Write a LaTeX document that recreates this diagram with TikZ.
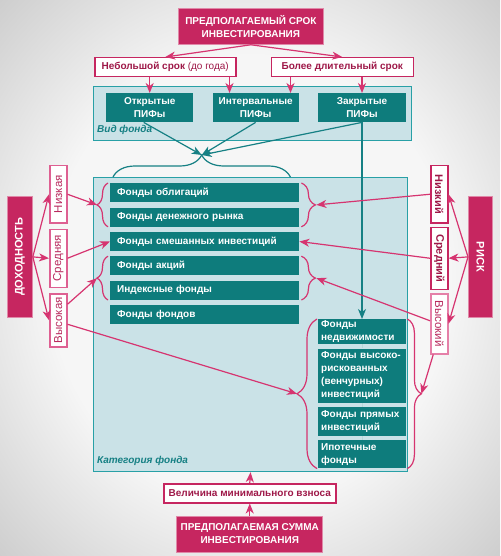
\documentclass[tikz,border=0pt]{standalone}
\usepackage{fontspec}
\setmainfont{Liberation Sans}
\usetikzlibrary{arrows.meta, positioning, decorations.pathreplacing}
\definecolor{crim}{RGB}{198,38,96}
\definecolor{crimdark}{RGB}{158,24,72}
\definecolor{crimsoft}{RGB}{184,42,94}
\definecolor{pinkline}{RGB}{214,52,112}
\definecolor{pinksoft}{RGB}{222,96,146}
\definecolor{tealbox}{RGB}{14,124,124}
\definecolor{tealline}{RGB}{22,128,132}
\definecolor{regionfill}{RGB}{202,226,231}
\definecolor{regionline}{RGB}{40,160,166}
\definecolor{bgin}{RGB}{246,246,246}
\definecolor{bgout}{RGB}{168,168,168}
\definecolor{bgcorner}{RGB}{160,160,160}
\pgfdeclareradialshading{bgshade}{\pgfpoint{0bp}{0bp}}{color(0bp)=(bgin); color(20bp)=(bgin); color(50bp)=(bgout); color(72bp)=(bgcorner)}
\newcommand{\vup}[1]{\rotatebox{90}{#1}}
\newcommand{\vdown}[1]{\rotatebox{-90}{#1}}

\begin{document}
\begin{tikzpicture}[
x=1pt, y=-1pt,
head/.style={rectangle, fill=crim, draw=crim!55!white, line width=0.8pt, text=white,
font=\bfseries\fontsize{10}{13}\selectfont, align=center, inner sep=0pt, anchor=north west},
tag/.style={rectangle, fill=white, draw=crim, line width=1.5pt, text=crimdark,
font=\bfseries, inner sep=0pt, anchor=north west},
vtag/.style={tag, minimum width=17pt, font=\bfseries\fontsize{11}{13}\selectfont},
ytag/.style={vtag, draw=pinksoft, text=crimsoft, font=\fontsize{11.5}{13}\selectfont},
region/.style={rectangle, fill=regionfill, draw=regionline, line width=1.2pt, anchor=north west},
regionlabel/.style={text=tealline, font=\bfseries\itshape, anchor=south west, inner sep=0pt},
fund/.style={rectangle, fill=tealbox, text=white, font=\bfseries\fontsize{10}{13}\selectfont,
align=center, inner sep=0pt, minimum height=29pt},
catbox/.style={rectangle, fill=tealbox, text=white, font=\bfseries, anchor=north west,
text width=175pt, inner xsep=7pt, inner ysep=0pt, minimum height=19pt, align=left},
sidebox/.style={rectangle, fill=tealbox, text=white, font=\bfseries\fontsize{10}{13}\selectfont,
anchor=north west, text width=82pt, inner xsep=3pt, inner ysep=0pt, align=left},
link/.style={draw=white!70!tealbox, line width=1.2pt},
parr/.style={-{Stealth[length=10pt,width=8pt,inset=3pt]}, draw=pinkline, line width=1.2pt},
tarr/.style={-{Stealth[length=10pt,width=8pt,inset=3pt]}, draw=tealline, line width=1.2pt},
pbrace/.style={decorate, decoration={brace, amplitude=#1}, draw=pinkline, line width=1.2pt},
tbrace/.style={decorate, decoration={brace, amplitude=22pt}, draw=tealline, line width=1.2pt}
]
\shade[shading=bgshade] (0,0) rectangle (500,556);

% term of investment
\node[head, minimum width=145pt, minimum height=36pt] (term) at (178,8) {ПРЕДПОЛАГАЕМЫЙ СРОК\\ИНВЕСТИРОВАНИЯ};
\node[tag, minimum width=141pt, minimum height=19pt] (short) at (94,57) {Небольшой срок {\mdseries (до года)}};
\node[tag, minimum width=142pt, minimum height=19pt, right=34pt of short] (long) {Более длительный срок};

% fund type
\node[region, minimum width=318pt, minimum height=54pt] (vid) at (93,86) {};
\node[regionlabel] (vidlabel) at ([xshift=4pt,yshift=6pt]vid.south west) {Вид фонда};
\node[fund, minimum width=87pt, anchor=north west] (open) at (106,93) {Открытые\\ПИФы};
\node[fund, minimum width=86pt, right=19pt of open] (interval) {Интервальные\\ПИФы};
\node[fund, minimum width=88pt, right=19pt of interval] (closed) {Закрытые\\ПИФы};

% fund category
\node[region, minimum width=314pt, minimum height=294pt] (cat) at (93,177) {};
\node[regionlabel] (catlabel) at ([xshift=4pt,yshift=6pt]cat.south west) {Категория фонда};
\node[catbox] (bonds) at (110,183) {Фонды облигаций};
\node[catbox, below=5pt of bonds] (money) {Фонды денежного рынка};
\node[catbox, below=5pt of money] (mixed) {Фонды смешанных инвестиций};
\node[catbox, below=5pt of mixed] (stocks) {Фонды акций};
\node[catbox, below=5pt of stocks] (index) {Индексные фонды};
\node[catbox, below=5pt of index] (fof) {Фонды фондов};
\node[sidebox, minimum height=25pt] (realty) at (318,319) {Фонды\\недвижимости};
\node[sidebox, minimum height=54pt, below=4pt of realty] (venture) {Фонды высоко-\\рискованных\\(венчурных)\\инвестиций};
\node[sidebox, minimum height=29pt, below=4pt of venture] (direct) {Фонды прямых\\инвестиций};
\node[sidebox, minimum height=28pt, below=4pt of direct] (mortgage) {Ипотечные\\фонды};

% yield and risk
\node[head, font=\bfseries\fontsize{11}{13}\selectfont, minimum width=25pt, minimum height=121pt] (yield) at (7,196) {\vup{ДОХОДНОСТЬ}};
\node[ytag, minimum height=57pt] (ylow) at (49,165) {\vup{Низкая}};
\node[ytag, minimum height=58pt, below=5pt of ylow] (ymid) {\vup{Средняя}};
\node[ytag, minimum height=53pt, below=5pt of ymid] (yhigh) {\vup{Высокая}};
\node[head, font=\bfseries\fontsize{11}{13}\selectfont, minimum width=24pt, minimum height=121pt] (risk) at (468,196) {\vdown{РИСК}};
\node[vtag, minimum height=57pt] (rlow) at (430,165) {\vdown{Низкий}};
\node[vtag, minimum height=62pt, below=3pt of rlow] (rmid) {\vdown{Средний}};
\node[ytag, draw=pinksoft!80!white, minimum height=60pt, below=3pt of rmid] (rhigh) {\vdown{Высокий}};

% sum of investment
\node[tag, minimum width=172pt, minimum height=19pt] (minfee) at (163,483) {Величина минимального взноса};
\node[head, minimum width=146pt, minimum height=36pt, below=12pt of minfee] (sum) {ПРЕДПОЛАГАЕМАЯ СУММА\\ИНВЕСТИРОВАНИЯ};

% brace tips
\coordinate (conv) at ([xshift=-3pt,yshift=28pt]bonds.north);
\coordinate (lbA) at ([xshift=-13pt,yshift=-2.5pt]bonds.south west);
\coordinate (rbA) at ([xshift=17pt,yshift=-2.5pt]bonds.south east);
\coordinate (lbB) at ([xshift=-13pt,yshift=-2.5pt]stocks.south west);
\coordinate (rbB) at ([xshift=17pt,yshift=-2.5pt]stocks.south east);
\coordinate (lbC) at ([xshift=-21pt,yshift=9pt]venture.south west);
\coordinate (rbC) at ([xshift=15pt,yshift=9pt]venture.south east);

\draw[tbrace] ([xshift=3pt,yshift=6pt]bonds.north west) -- ([xshift=-9pt,yshift=6pt]bonds.north east);
\draw[pbrace=11pt] ([xshift=-2pt]money.south west) -- ([xshift=-2pt]bonds.north west);
\draw[pbrace=14pt] ([xshift=2pt]bonds.north east) -- ([xshift=2pt]money.south east);
\draw[pbrace=11pt] ([xshift=-2pt]index.south west) -- ([xshift=-2pt]stocks.north west);
\draw[pbrace=14pt] ([xshift=2pt]stocks.north east) -- ([xshift=2pt]index.south east);
\draw[pbrace=20pt] ([xshift=-1pt]mortgage.south west) -- ([xshift=-1pt]realty.north west);
\draw[pbrace=14pt] ([xshift=1pt]realty.north east) -- ([xshift=1pt]mortgage.south east);

\draw[link] (realty.south) -- (venture.north);
\draw[link] (venture.south) -- (direct.north);
\draw[link] (direct.south) -- (mortgage.north);

\draw[parr] (term.south) -- (short.north);
\draw[parr] (term.south) -- (long.north);
\draw[parr] (open.north |- short.south) -- (open.north);
\draw[parr] ([xshift=-7pt]short.south east) -- ([xshift=-7pt]short.south east |- interval.north);
\draw[parr] ([xshift=20pt]long.south west) -- ([xshift=20pt]long.south west |- interval.north);
\draw[parr] (closed.north |- long.south) -- (closed.north);

\draw[tarr] ([xshift=-6pt]open.south) -- (conv);
\draw[tarr] (interval.south) -- (conv);
\draw[tarr] (closed.south) -- (conv);
\draw[tarr] (closed.south) -- (closed.south |- realty.north);

\draw[parr] (yield.east) -- (ylow.west);
\draw[parr] (yield.east) -- (ymid.west);
\draw[parr] (yield.east) -- (yhigh.west);
\draw[parr] (ylow.east) -- (lbA);
\draw[parr] (ymid.east) -- (mixed.west);
\draw[parr] ([yshift=16pt]yhigh.east) -- (lbB);
\draw[parr] ([yshift=-4pt]yhigh.east) -- (lbC);

\draw[parr] (risk.west) -- (rlow.east);
\draw[parr] (risk.west) -- (rmid.east);
\draw[parr] (risk.west) -- (rhigh.east);
\draw[parr] (rlow.west) -- (rbA);
\draw[parr] (rmid.west) -- (mixed.east);
\draw[parr] ([yshift=3pt]rhigh.west) -- (rbB);
\draw[parr] ([xshift=-6pt]rhigh.south) -- (rbC);

\draw[parr] (minfee.north) -- (cat.south);
\draw[parr] (sum.north) -- (minfee.south);
\end{tikzpicture}
\end{document}
